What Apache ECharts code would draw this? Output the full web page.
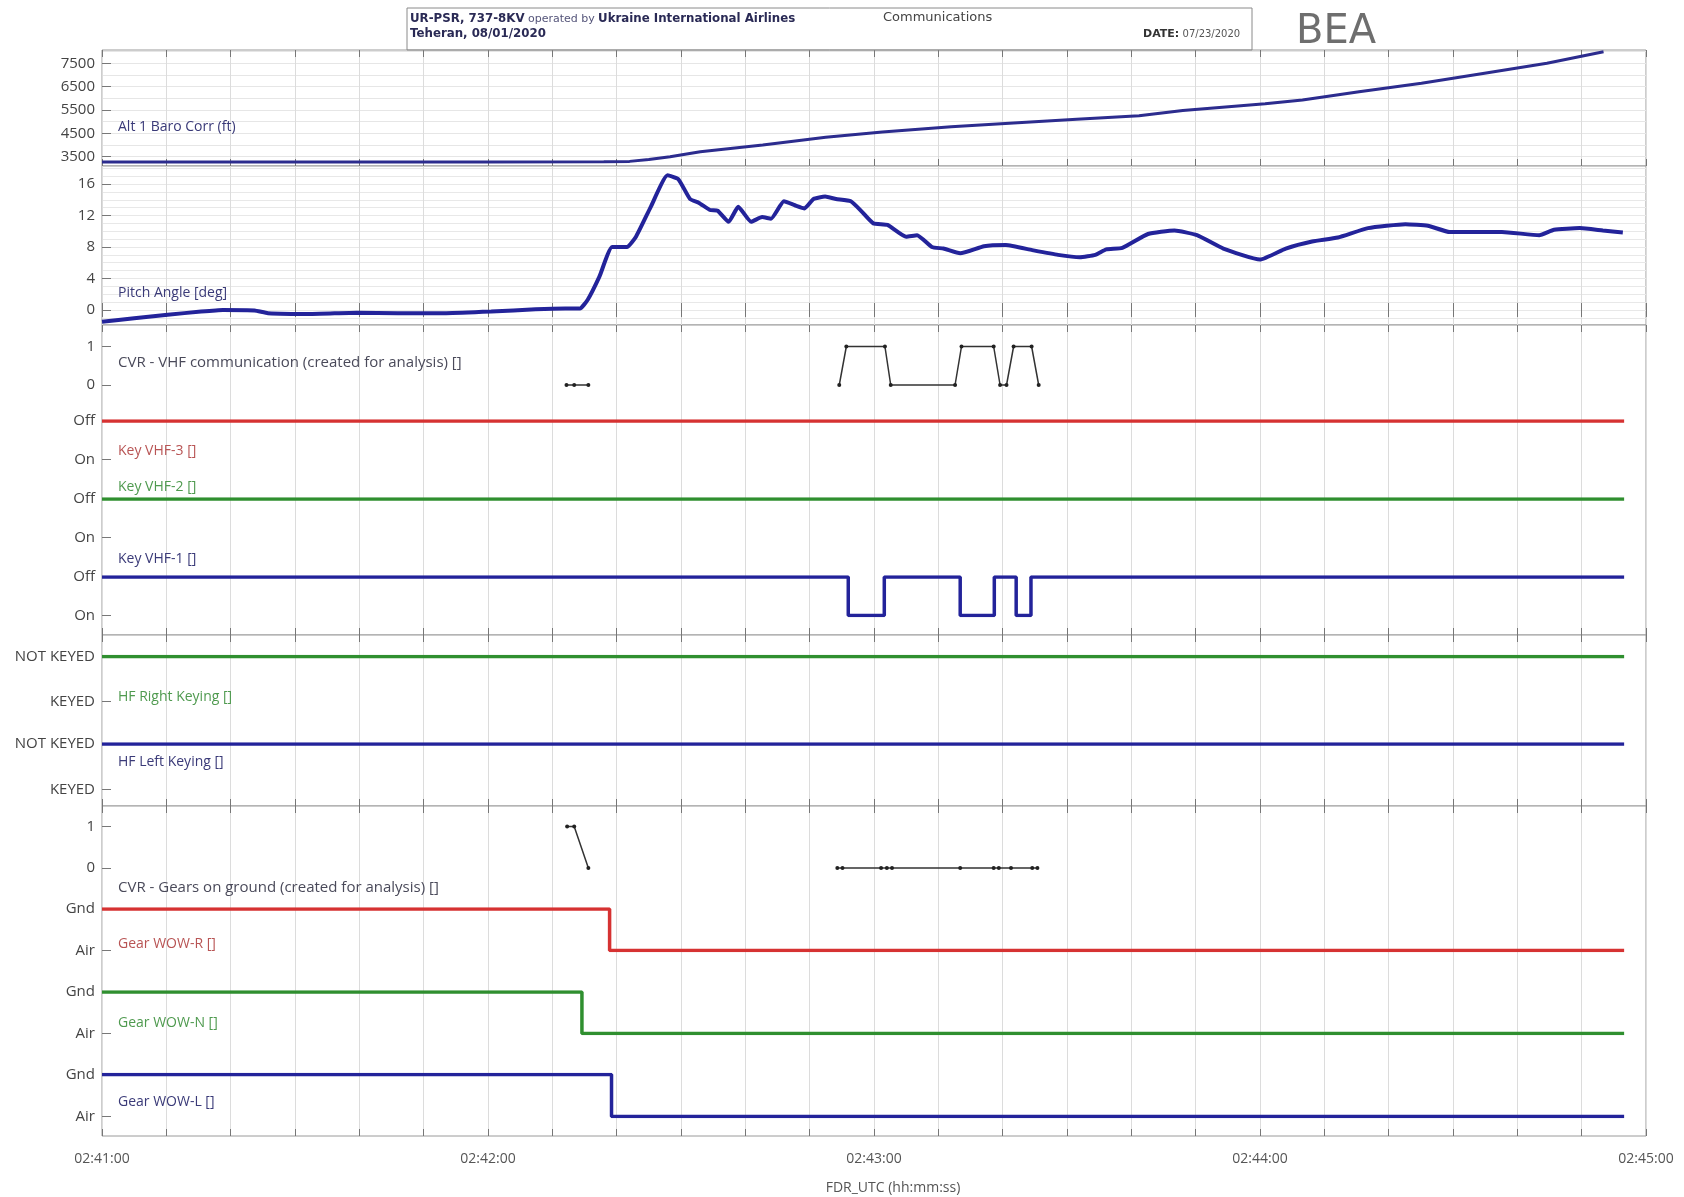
<!DOCTYPE html>
<html><head><meta charset="utf-8">
<script src="https://cdn.jsdelivr.net/npm/echarts@6/dist/echarts.min.js"></script>
<style>html,body{margin:0;padding:0;background:#fff}#c{width:1684px;height:1197px}</style>
</head><body><div id="c"></div>
<script>
// ---------------- DATA ----------------
// time is seconds after 02:41:00
const timeTickLabels = ['02:41:00','02:42:00','02:43:00','02:44:00','02:45:00'];
const timeTickSeconds = [0, 60, 120, 180, 240];

const altTicks = [3500, 4500, 5500, 6500, 7500];
const altTime = [0, 20, 40, 60, 78, 82, 85, 88.3, 93, 102.7, 112.5, 121.3, 132, 141.7, 151.5, 161.2, 168, 180.8, 186.6, 195.4, 205.1, 214.9, 224.6, 233.4];
const altFt   = [3270, 3270, 3270, 3275, 3280, 3300, 3380, 3500, 3714, 4000, 4330, 4560, 4780, 4940, 5100, 5250, 5480, 5770, 5928, 6284, 6643, 7072, 7500, 7997];

const pitchTicks = [0, 4, 8, 12, 16];
const pitchTime = [0, 5, 10.2, 15.4, 18.8, 23.7, 25.8, 32.7, 39.6, 46, 53.5, 60.5, 67.4, 72, 74.3, 75.5, 77.3, 79.3, 81.6, 83, 85.3, 87.9, 89.6, 91.4, 92.8, 94.5, 95.7, 97.4, 98.9, 100.9, 102.6, 104, 106, 107.7, 109.2, 110.6, 112.4, 114.1, 116.4, 118.1, 119.9, 122.1, 125, 126.7, 129, 130.8, 133.4, 137.1, 140.5, 144.6, 148.6, 152, 154.4, 156.1, 158.6, 162.6, 166.7, 170.2, 174.3, 180, 184, 188.1, 192.1, 196.8, 202.6, 206.1, 209.5, 213, 217.6, 223.4, 225.7, 229.7, 233.3, 236.4];
const pitchDeg  = [-1.5, -1.05, -0.6, -0.2, 0.0, -0.05, -0.4, -0.5, -0.35, -0.4, -0.4, -0.2, 0.1, 0.2, 0.2, 1.3, 4.2, 8.0, 8.0, 9.3, 13.1, 17.1, 16.6, 14.1, 13.6, 12.7, 12.6, 11.2, 13.1, 11.2, 11.8, 11.6, 13.8, 13.3, 12.9, 14.1, 14.4, 14.1, 13.8, 12.5, 11.0, 10.8, 9.3, 9.5, 8.0, 7.8, 7.2, 8.1, 8.25, 7.6, 7.0, 6.7, 7.0, 7.7, 7.9, 9.65, 10.1, 9.5, 7.8, 6.4, 7.8, 8.7, 9.2, 10.4, 10.9, 10.7, 9.9, 9.9, 9.9, 9.5, 10.2, 10.4, 10.1, 9.85];

const cvrLevels = [0, 1];
const cvrVhfTime = [72.2, 73.4, 75.6, 90, 114.6, 115.7, 121.7, 122.6, 132.6, 133.6, 138.6, 139.6, 140.6, 141.7, 144.5, 145.6];
const cvrVhfVal  = [0, 0, 0, null, 0, 1, 1, 0, 0, 1, 1, 0, 0, 1, 1, 0];

const keyLevels = ['On', 'Off'];
const keyVhf3Time = [0, 236.6];
const keyVhf3State = ['Off', 'Off'];
const keyVhf2Time = [0, 236.6];
const keyVhf2State = ['Off', 'Off'];
const keyVhf1Time = [0, 116.0, 121.6, 133.4, 138.7, 142.1, 144.4, 236.6];
const keyVhf1State = ['Off', 'On', 'Off', 'On', 'Off', 'On', 'Off', 'Off'];

const hfLevels = ['KEYED', 'NOT KEYED'];
const hfRightTime = [0, 236.6];
const hfRightState = ['NOT KEYED', 'NOT KEYED'];
const hfLeftTime = [0, 236.6];
const hfLeftState = ['NOT KEYED', 'NOT KEYED'];

const cvrGearTime = [72.3, 73.4, 75.6, 95, 114.3, 115.1, 121.1, 122.0, 122.8, 133.4, 138.6, 139.4, 141.3, 144.6, 145.4];
const cvrGearVal  = [1, 1, 0, null, 0, 0, 0, 0, 0, 0, 0, 0, 0, 0, 0];

const gearLevels = ['Air', 'Gnd'];
const wowRTime = [0, 78.9, 236.6];
const wowRState = ['Gnd', 'Air', 'Air'];
const wowNTime = [0, 74.6, 236.6];
const wowNState = ['Gnd', 'Air', 'Air'];
const wowLTime = [0, 79.2, 236.6];
const wowLState = ['Gnd', 'Air', 'Air'];

// ---------------- LAYOUT ----------------
const FONT = '"Open Sans", "Noto Sans", sans-serif';
const HFONT = '"DejaVu Sans", sans-serif';
const X0 = 102, XW = 1544;
const RED = '#d63232', GREEN = '#2f8f2f', NAVY = '#23239a';
const frames = [[50, 116], [166, 159], [325, 310], [635, 171], [806, 330]];

const signals = [
  {top: 346.5, h: 38.5, kind: 'cvr', t: cvrVhfTime, v: cvrVhfVal},
  {top: 421, h: 38.5, kind: 'state', levels: keyLevels, t: keyVhf3Time, v: keyVhf3State, color: RED},
  {top: 499, h: 38.5, kind: 'state', levels: keyLevels, t: keyVhf2Time, v: keyVhf2State, color: GREEN},
  {top: 577, h: 38.5, kind: 'state', levels: keyLevels, t: keyVhf1Time, v: keyVhf1State, color: NAVY},
  {top: 656.5, h: 45, kind: 'state', levels: hfLevels, t: hfRightTime, v: hfRightState, color: GREEN},
  {top: 744, h: 45.5, kind: 'state', levels: hfLevels, t: hfLeftTime, v: hfLeftState, color: NAVY},
  {top: 826.5, h: 41.5, kind: 'cvr', t: cvrGearTime, v: cvrGearVal},
  {top: 909, h: 41.5, kind: 'state', levels: gearLevels, t: wowRTime, v: wowRState, color: RED},
  {top: 992, h: 41.5, kind: 'state', levels: gearLevels, t: wowNTime, v: wowNState, color: GREEN},
  {top: 1074.5, h: 42, kind: 'state', levels: gearLevels, t: wowLTime, v: wowLState, color: NAVY}
];

const ALT_MIN = 3102, ALT_MAX = 8070;
const PITCH_MIN = -1.905, PITCH_MAX = 18.286;

const grids = [], xAxes = [], yAxes = [], series = [];
const labelStyle = {color: '#444', fontSize: 15, fontFamily: FONT, margin: 7};
const yTick = {show: true, inside: true, length: 9, lineStyle: {color: '#777'}};

frames.forEach(([top, h], i) => {
  grids.push({left: X0, width: XW, top: top, height: h, show: true, backgroundColor: '#fff',
    borderColor: '#9a9a9a', borderWidth: 1, containLabel: false, outerBoundsMode: 'none'});
});
frames.forEach((f, i) => {
  xAxes.push({type: 'value', gridIndex: i, min: 0, max: 240, interval: 10, position: 'bottom',
    axisLine: {show: false},
    axisTick: {show: true, inside: true, length: 7, lineStyle: {color: '#777'}},
    splitLine: {show: true, lineStyle: {color: '#dcdcdc', width: 1}},
    axisLabel: i === 4 ? {show: true, customValues: timeTickSeconds, color: '#555', fontSize: 14, fontFamily: FONT, margin: 16,
      formatter: v => timeTickLabels[timeTickSeconds.indexOf(v)]} : {show: false}});
});
frames.forEach((f, i) => {
  xAxes.push({type: 'value', gridIndex: i, min: 0, max: 240, interval: 10, position: 'top',
    axisLine: {show: false},
    axisTick: {show: true, inside: true, length: 7, lineStyle: {color: '#777'}},
    splitLine: {show: false}, axisLabel: {show: false}});
});

// y axes for frames
const altGridVals = []; for (let v = 3500; v <= 8000; v += 500) altGridVals.push(v);
const pitchGridVals = []; for (let v = -1; v <= 18; v += 1) pitchGridVals.push(v);
yAxes.push({type: 'value', gridIndex: 0, min: ALT_MIN, max: ALT_MAX, axisLine: {show: false},
  axisTick: Object.assign({customValues: altTicks}, yTick),
  axisLabel: Object.assign({customValues: altTicks, formatter: v => String(v)}, labelStyle),
  splitLine: {show: false}});
yAxes.push({type: 'value', gridIndex: 0, min: ALT_MIN, max: ALT_MAX, position: 'left', axisLine: {show: false},
  axisTick: {show: false, customValues: altGridVals}, axisLabel: {show: false},
  splitLine: {show: true, lineStyle: {color: '#e6e6e6'}}});
yAxes.push({type: 'value', gridIndex: 1, min: PITCH_MIN, max: PITCH_MAX, axisLine: {show: false},
  axisTick: Object.assign({customValues: pitchTicks}, yTick),
  axisLabel: Object.assign({customValues: pitchTicks, formatter: v => String(v)}, labelStyle),
  splitLine: {show: false}});
yAxes.push({type: 'value', gridIndex: 1, min: PITCH_MIN, max: PITCH_MAX, position: 'left', axisLine: {show: false},
  axisTick: {show: false, customValues: pitchGridVals}, axisLabel: {show: false},
  splitLine: {show: true, lineStyle: {color: '#e8e8e8'}}});
[2, 3, 4].forEach(g => yAxes.push({type: 'value', gridIndex: g, show: false, min: 0, max: 1}));

series.push({type: 'line', name: 'Alt 1 Baro Corr (ft)', xAxisIndex: 0, yAxisIndex: 0,
  data: altTime.map((t, k) => [t, altFt[k]]), showSymbol: false, smooth: false,
  lineStyle: {color: '#2c2c8e', width: 3}, animation: false});
series.push({type: 'line', name: 'Pitch Angle [deg]', xAxisIndex: 1, yAxisIndex: 2,
  data: pitchTime.map((t, k) => [t, pitchDeg[k]]), showSymbol: false, smooth: 0.15,
  lineStyle: {color: NAVY, width: 4}, animation: false});

signals.forEach((s, k) => {
  const gi = 5 + k;
  grids.push({left: X0, width: XW, top: s.top, height: s.h, show: false, containLabel: false, outerBoundsMode: 'none'});
  xAxes.push({type: 'value', gridIndex: gi, min: 0, max: 240, show: false});
  if (s.kind === 'cvr') {
    yAxes.push({type: 'value', gridIndex: gi, min: 0, max: 1, interval: 1, axisLine: {show: false},
      axisTick: Object.assign({customValues: cvrLevels}, yTick),
      axisLabel: Object.assign({customValues: cvrLevels}, labelStyle), splitLine: {show: false}});
    series.push({type: 'line', xAxisIndex: 10 + k, yAxisIndex: 7 + k, clip: false, animation: false,
      data: s.t.map((t, j) => [t, s.v[j] === null ? '-' : s.v[j]]), connectNulls: false,
      symbol: 'circle', symbolSize: 4, showSymbol: true,
      itemStyle: {color: '#222'}, lineStyle: {color: '#333', width: 1.5}});
  } else {
    yAxes.push({type: 'category', gridIndex: gi, data: s.levels, boundaryGap: false, axisLine: {show: false},
      axisTick: Object.assign({alignWithLabel: true, interval: 0}, yTick),
      axisLabel: Object.assign({interval: 0}, labelStyle), splitLine: {show: false}});
    series.push({type: 'line', xAxisIndex: 10 + k, yAxisIndex: 7 + k, clip: false, animation: false,
      step: 'start', showSymbol: false,
      data: s.t.map((t, j) => [t, s.levels.indexOf(s.v[j])]),
      lineStyle: {color: s.color, width: 3.5}});
  }
});

function txt(x, y, text, color, size, extra) {
  return Object.assign({type: 'text', x: x, y: y, z: 50,
    style: Object.assign({text: text, fill: color, fontSize: size || 15, fontFamily: FONT,
      align: 'left', verticalAlign: 'middle', textAlign: 'left', textVerticalAlign: 'middle'}, extra || {})});
}
const LBL_GREY = '#4a4a5a', LBL_RED = '#b85454', LBL_GREEN = '#4f9a4f', LBL_NAVY = '#3a3a78';
const graphics = [
  {type: 'rect', z: 40, shape: {x: 407, y: 8, width: 845, height: 42}, style: {fill: 'none', stroke: '#8a8a8a', lineWidth: 1}},
  {type: 'text', x: 410, y: 19, z: 50, style: {text: '{b|UR-PSR, 737-8KV} {n|operated by} {b|Ukraine International Airlines}',
    verticalAlign: 'middle', textVerticalAlign: 'middle',
    rich: {b: {fontWeight: 'bold', fontSize: 11.8, fill: '#2a2a55', fontFamily: HFONT}, n: {fontSize: 11, fill: '#55557a', fontFamily: HFONT}}}},
  {type: 'text', x: 410, y: 34, z: 50, style: {text: 'Teheran, 08/01/2020', fontWeight: 'bold', fontSize: 11.8, fill: '#2a2a55', fontFamily: HFONT,
    verticalAlign: 'middle', textVerticalAlign: 'middle'}},
  txt(883, 18, 'Communications', '#444', 13, {fontFamily: HFONT}),
  {type: 'text', x: 1143, y: 34, z: 50, style: {text: '{b|DATE:} {n|07/23/2020}', verticalAlign: 'middle', textVerticalAlign: 'middle',
    rich: {b: {fontWeight: 'bold', fontSize: 11, fill: '#333', fontFamily: HFONT}, n: {fontSize: 10, fill: '#555', fontFamily: HFONT}}}},
  txt(1296, 33, 'BEA', '#6e6e6e', 40, {fontFamily: HFONT, fontWeight: 'normal'}),
  txt(118, 127, 'Alt 1 Baro Corr (ft)', LBL_NAVY, 14),
  txt(118, 293, 'Pitch Angle [deg]', LBL_NAVY, 14),
  txt(118, 363, 'CVR - VHF communication (created for analysis) []', LBL_GREY, 15),
  txt(118, 451, 'Key VHF-3 []', LBL_RED, 14),
  txt(118, 487, 'Key VHF-2 []', LBL_GREEN, 14),
  txt(118, 559, 'Key VHF-1 []', LBL_NAVY, 14),
  txt(118, 697, 'HF Right Keying []', LBL_GREEN, 14),
  txt(118, 762, 'HF Left Keying []', LBL_NAVY, 14),
  txt(118, 888, 'CVR - Gears on ground (created for analysis) []', LBL_GREY, 15),
  txt(118, 944, 'Gear WOW-R []', LBL_RED, 14),
  txt(118, 1023, 'Gear WOW-N []', LBL_GREEN, 14),
  txt(118, 1102, 'Gear WOW-L []', LBL_NAVY, 14),
  txt(893, 1188, 'FDR_UTC (hh:mm:ss)', '#555', 14, {align: 'center', textAlign: 'center'})
];

const chart = echarts.init(document.getElementById('c'), null, {renderer: 'canvas', width: 1684, height: 1197});
chart.setOption({
  animation: false,
  backgroundColor: '#fff',
  grid: grids, xAxis: xAxes, yAxis: yAxes, series: series, graphic: graphics
});
</script></body></html>
